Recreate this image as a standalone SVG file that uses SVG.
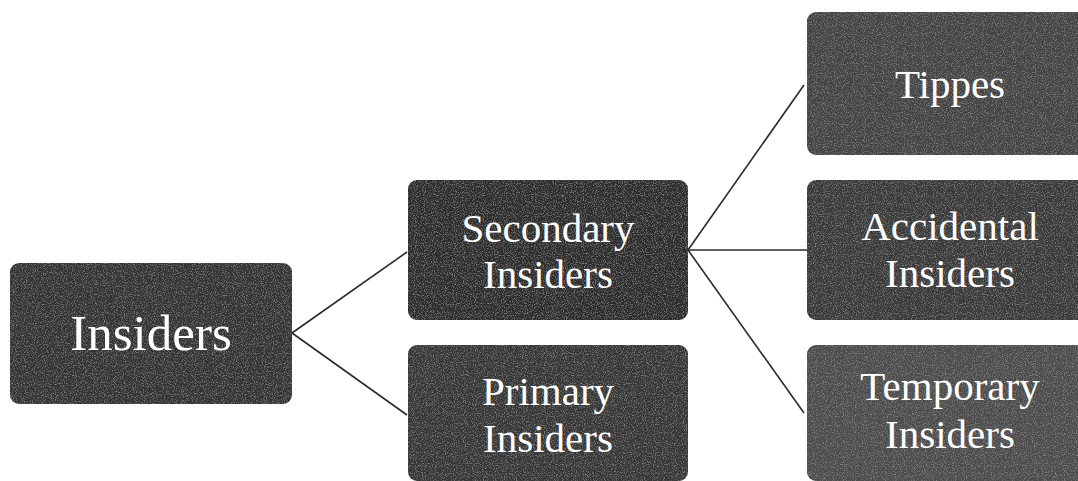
<svg xmlns="http://www.w3.org/2000/svg" width="1078" height="481" viewBox="0 0 1078 481">
<style>
.box{stroke:none}
.t{font-family:"Liberation Serif","Times New Roman",serif;fill:#ffffff;text-anchor:middle}
.c{stroke:#2a2a2a;stroke-width:1.6;fill:none}
</style>
<defs>
<filter id="grain" x="0" y="0" width="100%" height="100%">
<feTurbulence type="fractalNoise" baseFrequency="0.9" numOctaves="2" seed="3" result="n"/>
<feColorMatrix in="n" type="matrix" values="0 0 0 0 0.5  0 0 0 0 0.5  0 0 0 0 0.5  0 0 0 1.2 -0.6" result="g"/>
<feComposite in="g" in2="SourceGraphic" operator="in" result="gm"/>
<feMerge><feMergeNode in="SourceGraphic"/><feMergeNode in="gm"/></feMerge>
</filter>
</defs>
<rect width="1078" height="481" fill="#ffffff"/>
<g id="connectors">
<line class="c" x1="292" y1="333" x2="407" y2="252"/>
<line class="c" x1="292" y1="333" x2="407" y2="415"/>
<line class="c" x1="688" y1="250" x2="804" y2="85"/>
<line class="c" x1="688" y1="250" x2="807" y2="250"/>
<line class="c" x1="688" y1="250" x2="804" y2="413"/>
</g>
<g id="insiders">
<rect class="box" x="10" y="263" width="282" height="141" rx="9" fill="#353535" filter="url(#grain)"/>
<text class="t" x="151" y="350" font-size="51">Insiders</text>
</g>
<g id="secondary">
<rect class="box" x="408" y="180" width="280" height="140" rx="9" fill="#2f2f2f" filter="url(#grain)"/>
<text class="t" x="548" y="242" font-size="41">Secondary</text>
<text class="t" x="548" y="288" font-size="41">Insiders</text>
</g>
<g id="primary">
<rect class="box" x="408" y="345" width="280" height="136" rx="9" fill="#383838" filter="url(#grain)"/>
<text class="t" x="548" y="405" font-size="41">Primary</text>
<text class="t" x="548" y="452" font-size="41">Insiders</text>
</g>
<g id="tippes">
<rect class="box" x="807" y="12" width="282" height="143" rx="9" fill="#444444" filter="url(#grain)"/>
<text class="t" x="950" y="98" font-size="41">Tippes</text>
</g>
<g id="accidental">
<rect class="box" x="807" y="180" width="282" height="140" rx="9" fill="#3a3a3a" filter="url(#grain)"/>
<text class="t" x="950" y="240" font-size="41">Accidental</text>
<text class="t" x="950" y="287" font-size="41">Insiders</text>
</g>
<g id="temporary">
<rect class="box" x="807" y="345" width="282" height="136" rx="9" fill="#4d4d4d" filter="url(#grain)"/>
<text class="t" x="950" y="400" font-size="41">Temporary</text>
<text class="t" x="950" y="448" font-size="41">Insiders</text>
</g>
</svg>
